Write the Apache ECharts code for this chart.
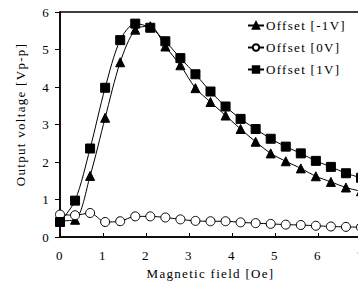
<!DOCTYPE html>
<html>
<head>
<meta charset="utf-8">
<script src="https://cdn.jsdelivr.net/npm/echarts@6/dist/echarts.min.js"></script>
<style>
html,body{margin:0;padding:0;background:#fff;}
#chart{width:358px;height:285px;}
#chart text{letter-spacing:1.3px;}
</style>
</head>
<body>
<div id="chart"></div>
<script>
const fieldOe = [0, 0.35, 0.7, 1.05, 1.4, 1.75, 2.1, 2.45, 2.8, 3.15, 3.5, 3.85, 4.2, 4.55, 4.9, 5.25, 5.6, 5.95, 6.3, 6.65, 7.0];
const offsetNeg1 = [0.43, 0.46, 1.63, 3.18, 4.66, 5.53, 5.62, 5.08, 4.58, 3.97, 3.60, 3.24, 2.88, 2.54, 2.23, 2.02, 1.83, 1.62, 1.47, 1.32, 1.22];
const offset0 = [0.60, 0.58, 0.64, 0.40, 0.42, 0.55, 0.55, 0.52, 0.47, 0.43, 0.42, 0.42, 0.39, 0.37, 0.35, 0.33, 0.32, 0.30, 0.28, 0.27, 0.26];
const offset1 = [0.40, 0.97, 2.36, 3.98, 5.25, 5.69, 5.58, 5.22, 4.77, 4.34, 3.88, 3.48, 3.15, 2.88, 2.62, 2.41, 2.23, 2.03, 1.87, 1.70, 1.58];
const seriesNames = ['Offset [-1V]', 'Offset [0V]', 'Offset [1V]'];
const xTitle = 'Magnetic field [Oe]';
const yTitle = 'Output voltage [Vp-p]';

const font = 'Liberation Serif';
const pairs = arr => arr.map((v, i) => [fieldOe[i], v]);

const chart = echarts.init(document.getElementById('chart'), null, {renderer: 'svg'});
const mk = (name, data, symbol, size, fill) => ({
  name, type: 'line', data: pairs(data), smooth: 0.3,
  symbol, symbolSize: size,
  lineStyle: {color: '#000', width: 1},
  itemStyle: {color: fill, borderColor: '#000', borderWidth: 1},
  emphasis: {disabled: true}
});
chart.setOption({
  animation: false,
  backgroundColor: '#fff',
  textStyle: {fontFamily: font, color: '#000'},
  grid: {left: 60, top: 12, right: -3, bottom: 48, outerBoundsMode: 'none', containLabel: false,
    show: true, borderColor: '#000', borderWidth: 1.5},
  legend: {
    orient: 'vertical', left: 242, top: 14, itemGap: 9,
    itemWidth: 16, itemHeight: 8,
    textStyle: {fontFamily: font, fontSize: 13, color: '#000', padding: [0, 0, 0, -3]},
    data: seriesNames
  },
  xAxis: {
    type: 'value', min: 0, max: 7, interval: 1,
    name: xTitle, nameLocation: 'middle', nameGap: 30,
    nameTextStyle: {fontFamily: font, fontSize: 13, color: '#000'},
    axisLine: {lineStyle: {color: '#000', width: 1.5}},
    axisTick: {inside: true, length: 4, lineStyle: {color: '#000'}},
    axisLabel: {fontFamily: font, fontSize: 13, color: '#000', margin: 12},
    splitLine: {show: false}
  },
  yAxis: {
    type: 'value', min: 0, max: 6, interval: 1,
    axisLine: {show: true, lineStyle: {color: '#000', width: 1.5}},
    axisTick: {show: true, inside: false, length: 5, lineStyle: {color: '#000'}},
    axisLabel: {fontFamily: font, fontSize: 13, color: '#000', margin: 10},
    splitLine: {show: false}
  },
  graphic: [{
    type: 'text', left: 14, top: 70, rotation: Math.PI / 2,
    style: {text: yTitle, font: '13px "Liberation Serif"', fill: '#000'}
  }],
  series: [
    mk(seriesNames[0], offsetNeg1, 'triangle', 9, '#000'),
    mk(seriesNames[1], offset0, 'circle', 9, '#fff'),
    mk(seriesNames[2], offset1, 'rect', 9, '#000')
  ]
});
</script>
</body>
</html>
